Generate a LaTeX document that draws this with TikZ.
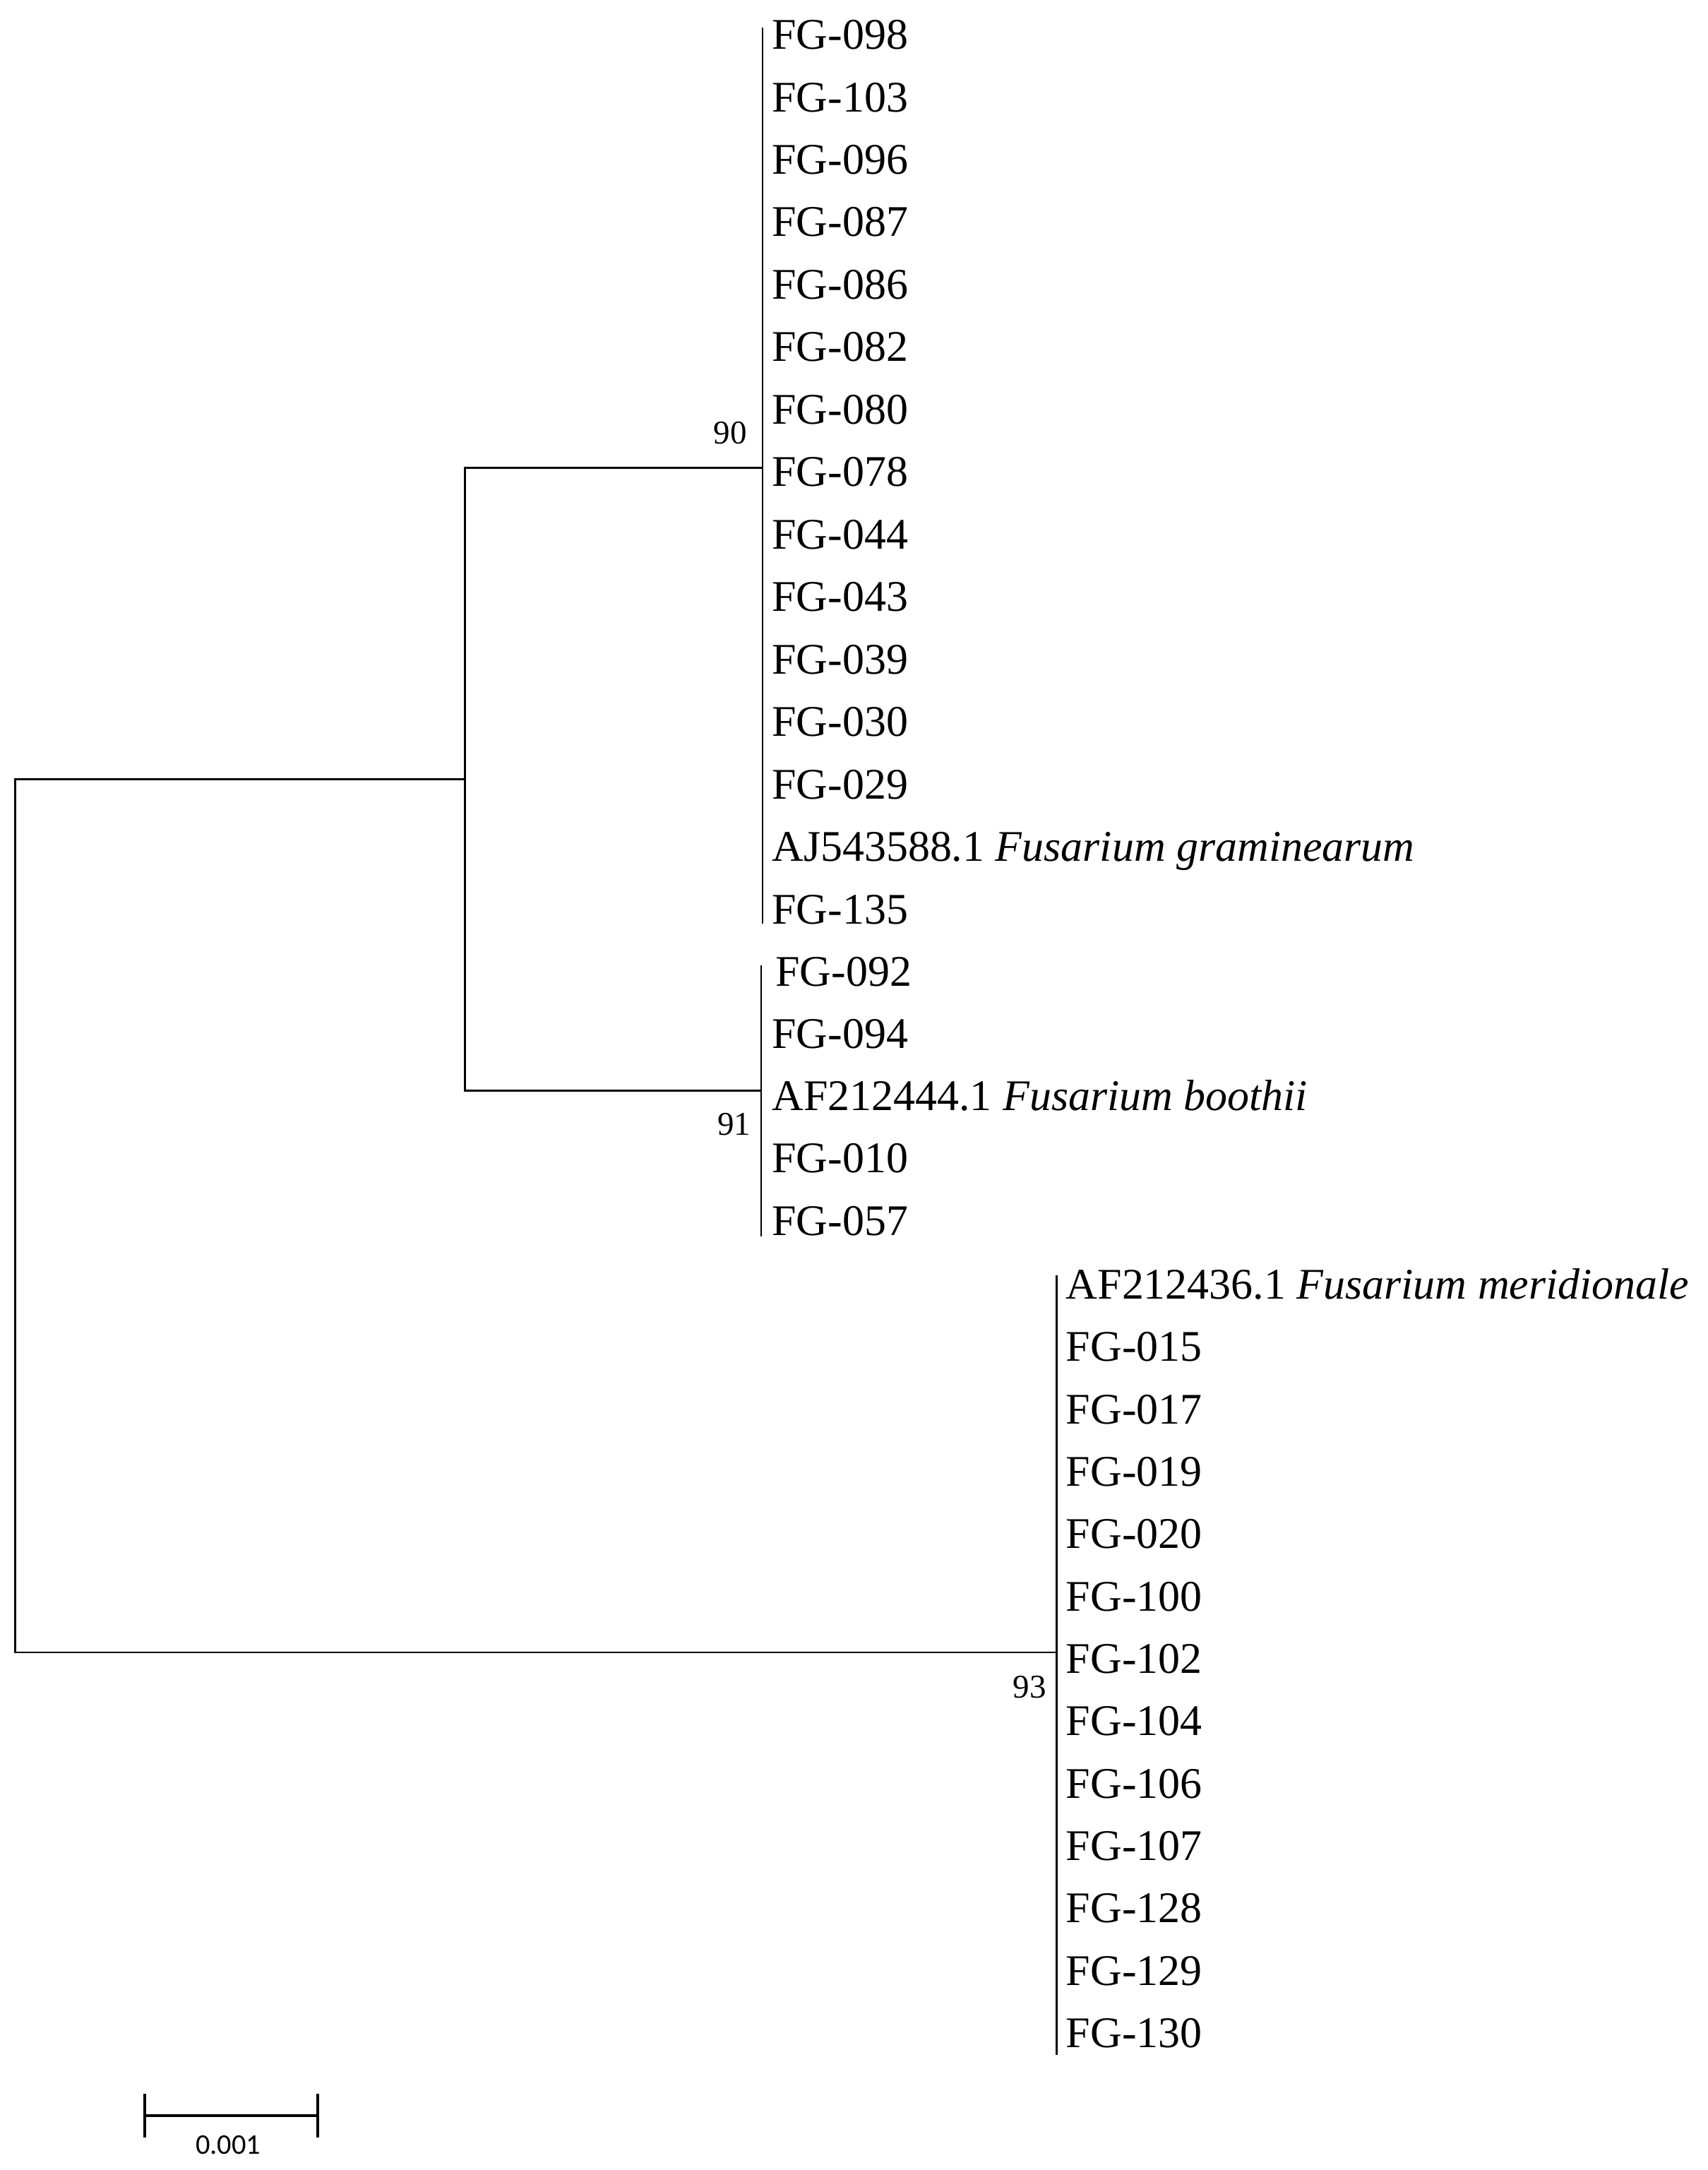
\documentclass[tikz,border=0pt]{standalone}
\usepackage{fontspec}
\setmainfont{Liberation Serif}
\newfontfamily\barfont{Carlito}
\begin{document}
\begin{tikzpicture}[x=0.5pt,y=-0.5pt,
  tree/.style={line width=0.6pt, line cap=rect},
  leaf/.style={anchor=base west, inner sep=0pt, font=\fontsize{15.8}{18}\selectfont},
  boot/.style={inner sep=0pt, font=\fontsize{12}{14}\selectfont},
  barline/.style={line width=0.8pt}]
\useasboundingbox (0,0) rectangle (1234,1568);
% clade 1 leaves
\foreach \t [count=\i from 0] in {FG-098,FG-103,FG-096,FG-087,FG-086,FG-082,FG-080,FG-078,FG-044,FG-043,FG-039,FG-030,FG-029,{AJ543588.1 \textit{Fusarium graminearum}},FG-135}
  \node[leaf] (a\i) at (557.5,{25+45.14*\i+10.5}) {\t};
% clade 2 leaves
\foreach \t [count=\i from 0] in {FG-094,{AF212444.1 \textit{Fusarium boothii}},FG-010,FG-057}
  \node[leaf] (b\i) at (557.5,{747+45*\i+10.5}) {\t};
\node[leaf] (bt) at (560,{702+10.5}) {FG-092};
% clade 3 leaves
\foreach \t [count=\i from 0] in {{AF212436.1 \textit{Fusarium meridionale}},FG-015,FG-017,FG-019,FG-020,FG-100,FG-102,FG-104,FG-106,FG-107,FG-128,FG-129,FG-130}
  \node[leaf] (c\i) at (770,{928+45.08*\i+10.5}) {\t};
% internal nodes
\coordinate (n1t) at (551,20.5);
\coordinate (n1b) at (551,667);
\coordinate (n1) at (551,338);
\coordinate (n2t) at (550,698);
\coordinate (n2b) at (550,893);
\coordinate (n2) at (550,788);
\coordinate (n3t) at (763.5,922);
\coordinate (n3b) at (763.5,1484);
\coordinate (n3) at (763.5,1194);
\coordinate (m) at (336,563);
\coordinate (mt) at (336,338);
\coordinate (mb) at (336,788);
\coordinate (r) at (11,563);
\coordinate (rt) at (11,563);
\coordinate (rb) at (11,1194);
\draw[tree] (n1t) -- (n1b);
\draw[tree] (n2t) -- (n2b);
\draw[tree] (n3t) -- (n3b);
\draw[tree] (n1) -- (mt) -- (mb) -- (n2);
\draw[tree] (m) -- (rt) -- (rb) -- (n3);
% bootstrap
\node[boot] (s90) at (527.6,313) {90};
\node[boot] (s91) at (530.5,812.6) {91};
\node[boot] (s93) at (744,1219) {93};
% scale bar
\coordinate (sbl) at (104.6,1528.7);
\coordinate (sbr) at (229.6,1528.7);
\draw[barline] (sbl) -- (sbr);
\draw[barline] ([yshift=8pt]sbl) -- ([yshift=-8pt]sbl);
\draw[barline] ([yshift=8pt]sbr) -- ([yshift=-8pt]sbr);
\node[inner sep=0pt, font=\barfont\fontsize{10.3}{12}\selectfont] (sbt) at (165,1550) {0.001};
\end{tikzpicture}
\end{document}
